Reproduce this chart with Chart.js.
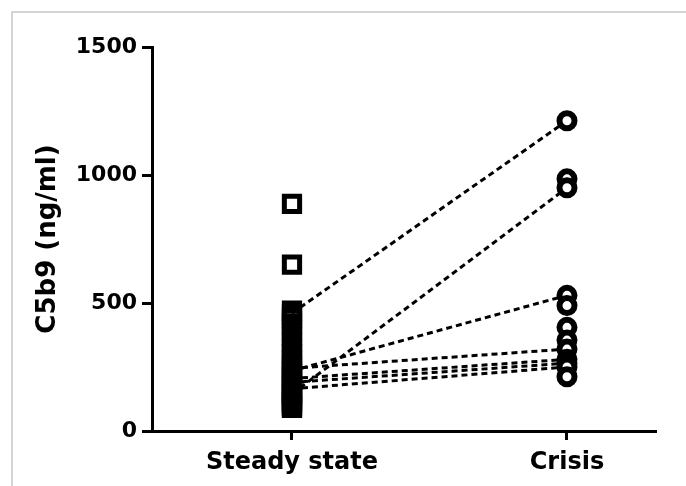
<!DOCTYPE html>
<html>
<head>
<meta charset="utf-8">
<script src="https://cdn.jsdelivr.net/npm/chart.js@4"></script>
<style>
  html, body { margin: 0; padding: 0; background: #fff; }
  #wrap { position: relative; width: 686px; height: 486px; }
  #frame {
    position: absolute; left: 11px; top: 11px; width: 700px; height: 500px;
    border-left: 2px solid #d4d4d4; border-top: 2px solid #d4d4d4;
  }
  canvas { position: absolute; left: 0; top: 0; }
</style>
</head>
<body>
<div id="wrap">
  <div id="frame"></div>
  <canvas id="chart" width="686" height="486"></canvas>
</div>
<script>
// ── data ──────────────────────────────────────────────────────────
const categories = ['Steady state', 'Crisis'];
const yTicks = [0, 500, 1000, 1500];

// every patient's C5b9 value (ng/ml)
const steadyValues = [887, 650, 470, 455, 440, 420, 395, 370, 345, 320, 300, 280,
                      262, 248, 235, 222, 210, 198, 186, 175, 165, 155, 145, 135,
                      125, 115, 108, 100, 95, 90];
const crisisValues = [1212, 985, 950, 530, 490, 405, 355, 320, 280, 265, 250, 212];

// paired samples (same patient): steady state -> crisis
const pairedSteady = [460, 145, 235, 245, 205, 190, 165];
const pairedCrisis = [1212, 950, 530, 320, 280, 265, 250];

// ── build datasets ────────────────────────────────────────────────
const FONT = "'DejaVu Sans', sans-serif";

const pairLines = pairedSteady.map((v, i) => ({
  type: 'line',
  data: [{ x: 1, y: v }, { x: 2, y: pairedCrisis[i] }],
  borderColor: '#000',
  borderWidth: 3,
  borderDash: [6, 4],
  pointRadius: 0,
  fill: false,
  order: 2,
  clip: false
}));

const datasets = [
  {
    type: 'scatter',
    data: steadyValues.map(v => ({ x: 1, y: v })),
    pointStyle: 'rect',
    pointRadius: 10.8,
    pointBorderWidth: 5,
    pointBorderColor: '#000',
    pointBackgroundColor: 'rgba(0,0,0,0)',
    order: 0,
    clip: false
  },
  {
    type: 'scatter',
    data: crisisValues.map(v => ({ x: 2, y: v })),
    pointStyle: 'circle',
    pointRadius: 7.5,
    pointBorderWidth: 6,
    pointBorderColor: '#000',
    pointBackgroundColor: '#fff',
    order: 0,
    clip: false
  },
  ...pairLines
];

new Chart(document.getElementById('chart'), {
  type: 'scatter',
  data: { datasets },
  options: {
    responsive: false,
    animation: false,
    layout: { padding: { left: 0, top: 47, right: 31, bottom: 0 } },
    plugins: { legend: { display: false }, tooltip: { enabled: false } },
    scales: {
      x: {
        type: 'linear',
        min: 0.491,
        max: 2.32,
        afterBuildTicks: s => { s.ticks = [{ value: 1 }, { value: 2 }]; },
        afterFit: s => { s.height = 55; },
        ticks: {
          callback: v => categories[v - 1],
          color: '#000',
          font: { family: FONT, size: 24, weight: 'bold' },
          padding: 8,
          maxRotation: 0
        },
        grid: { drawOnChartArea: false, drawTicks: true, tickLength: 9, color: '#000', lineWidth: 3 },
        border: { display: true, color: '#000', width: 3 }
      },
      y: {
        min: 0,
        max: 1500,
        afterBuildTicks: s => { s.ticks = yTicks.map(v => ({ value: v })); },
        afterFit: s => { s.width = 152; },
        ticks: {
          callback: v => String(v),
          color: '#000',
          font: { family: FONT, size: 22, weight: 'bold' },
          padding: 5
        },
        grid: { drawOnChartArea: false, drawTicks: true, tickLength: 10, color: '#000', lineWidth: 3 },
        border: { display: true, color: '#000', width: 3 },
        title: {
          display: true,
          text: 'C5b9 (ng/ml)',
          color: '#000',
          font: { family: FONT, size: 26, weight: 'bold' },
          padding: { top: 33, bottom: 0 }
        }
      }
    }
  }
});
</script>
</body>
</html>
